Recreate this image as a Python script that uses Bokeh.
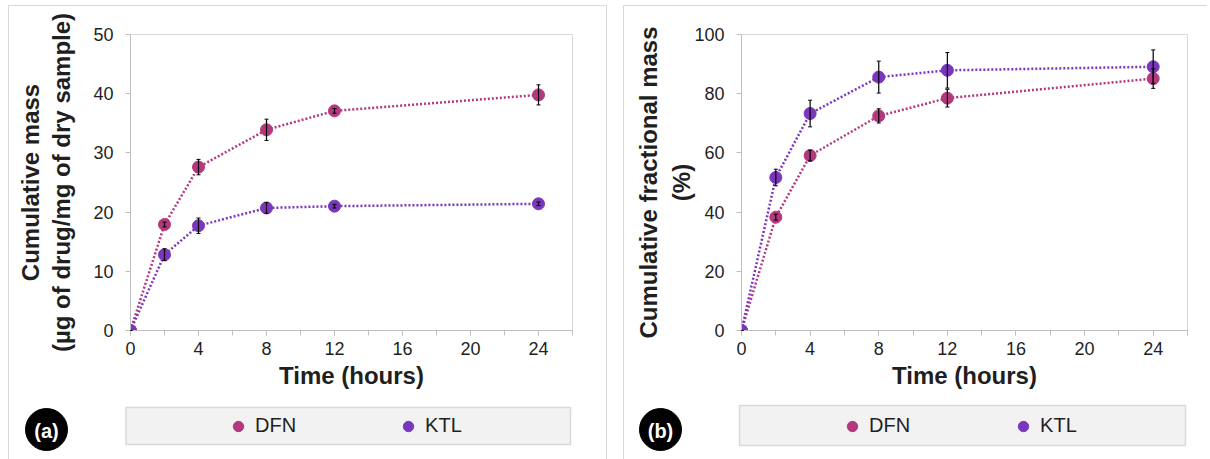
from bokeh.plotting import figure
from bokeh.models import (Range1d, Label, Legend, LegendItem, Whisker, ColumnDataSource,
                          SingleIntervalTicker, TeeHead, LinearAxis, FixedTicker, Spacer)
from bokeh.layouts import row, column
from bokeh.embed import file_html
from bokeh.resources import INLINE

# ---------------- data ----------------
hours = [0, 2, 4, 8, 12, 24]

a_dfn = [0, 17.9, 27.6, 33.9, 37.1, 39.8]
a_dfn_err = [0, 0.4, 1.3, 1.8, 0.4, 1.7]
a_ktl = [0, 12.8, 17.7, 20.7, 21.0, 21.4]
a_ktl_err = [0, 1.0, 1.3, 0.9, 0.3, 0.3]

b_dfn = [0, 38.3, 59.1, 72.5, 78.5, 85.1]
b_dfn_err = [0, 1.0, 1.8, 2.4, 3.0, 3.3]
b_ktl = [0, 51.7, 73.3, 85.6, 87.9, 89.1]
b_ktl_err = [0, 2.8, 4.5, 5.4, 6.0, 5.7]

series_names = ["DFN", "KTL"]
series_colors = ["#B4387E", "#7B36BE"]

FONT = "Liberation Sans"
TEXT = "#1f1f1f"
PANEL_LINE = "1px solid #D9D9D9"

CHART_H = 389
BOTTOM_H = 64


def chart(width, b_left, b_right, ymax, ystep, dfn, dfn_err, ktl, ktl_err,
          title_inner, title_outer, inner_standoff, outer_standoff):
    p = figure(width=width, height=CHART_H, output_backend="svg", toolbar_location=None,
               x_range=Range1d(0, 26), y_range=Range1d(0, ymax),
               min_border_left=b_left, min_border_right=b_right,
               min_border_top=28, min_border_bottom=CHART_H - 28 - 296)
    p.frame_align = False
    p.outline_line_color = "#D9D9D9"
    p.grid.visible = False

    p.xaxis.ticker = SingleIntervalTicker(interval=4, num_minor_ticks=2)
    p.yaxis.ticker = SingleIntervalTicker(interval=ystep, num_minor_ticks=0)
    for ax in (p.xaxis, p.yaxis):
        ax.axis_line_color = "#BFBFBF"
        ax.major_tick_line_color = "#BFBFBF"
        ax.minor_tick_line_color = "#BFBFBF"
        ax.major_tick_in = 0
        ax.major_tick_out = 5
        ax.minor_tick_in = 0
        ax.minor_tick_out = 5
        ax.major_label_text_font = FONT
        ax.major_label_text_font_size = "18px"
        ax.major_label_text_color = TEXT
        ax.axis_label_text_font = FONT
        ax.axis_label_text_font_size = "24px"
        ax.axis_label_text_font_style = "bold"
        ax.axis_label_text_color = TEXT
    p.yaxis.minor_tick_line_color = None
    p.yaxis.major_label_standoff = 12
    p.xaxis.major_label_standoff = 6
    p.xaxis.axis_label = "Time (hours)"
    p.xaxis.axis_label_standoff = 4
    p.yaxis.axis_label = title_inner
    p.yaxis.axis_label_standoff = inner_standoff

    ax2 = LinearAxis(ticker=FixedTicker(ticks=[]), axis_line_color=None,
                     major_tick_line_color=None, minor_tick_line_color=None,
                     major_tick_out=0, major_tick_in=0, major_label_standoff=0,
                     axis_label=title_outer, axis_label_standoff=outer_standoff,
                     axis_label_text_font=FONT, axis_label_text_font_size="24px",
                     axis_label_text_font_style="bold", axis_label_text_color=TEXT)
    p.add_layout(ax2, "left")

    for vals, errs, color in ((dfn, dfn_err, series_colors[0]), (ktl, ktl_err, series_colors[1])):
        p.line(hours, vals, line_color=color, line_width=2.5, line_dash="2 2")
        p.scatter(hours, vals, size=12, fill_color=color, line_color=color)
        src = ColumnDataSource(dict(x=hours,
                                    lo=[v - e for v, e in zip(vals, errs)],
                                    hi=[v + e for v, e in zip(vals, errs)]))
        p.add_layout(Whisker(base="x", lower="lo", upper="hi", source=src, level="annotation",
                             line_color="black", line_width=1.2,
                             upper_head=TeeHead(size=4, line_color="black", line_width=1),
                             lower_head=TeeHead(size=4, line_color="black", line_width=1)))
    return p


def bottom(width, x0, tag, tag_x, box_l, box_r, box_t, box_b, leg_glyph_left, spacing,
           dfn, ktl):
    # page-pixel coordinate system for the strip below the chart
    q = figure(width=width, height=BOTTOM_H, output_backend="svg", toolbar_location=None,
               x_range=Range1d(x0, x0 + width), y_range=Range1d(395 + BOTTOM_H, 395),
               min_border=0, x_axis_type=None, y_axis_type=None)
    q.frame_align = False
    q.outline_line_color = None
    q.grid.visible = False
    q.quad(left=[box_l], right=[box_r], top=[box_t], bottom=[box_b],
           fill_color="#F2F2F2", line_color="#D9D9D9", line_width=1.5)
    q.scatter([tag_x], [429], size=42, fill_color="black", line_color="black")
    q.add_layout(Label(x=tag_x, y=430, text=tag, text_align="center", text_baseline="middle",
                       text_font=FONT, text_font_size="20px", text_font_style="bold",
                       text_color="white"))
    # legend proxies: the series' first points, which fall outside this strip's ranges
    rs = [q.scatter(hours[:1], vals[:1], size=12, fill_color=c, line_color=c)
          for vals, c in zip((dfn, ktl), series_colors)]
    legend = Legend(items=[LegendItem(label=n, renderers=[r]) for n, r in zip(series_names, rs)],
                    location=(leg_glyph_left - x0, 395 + BOTTOM_H - 438.5),
                    orientation="horizontal", background_fill_alpha=0, border_line_alpha=0,
                    padding=0, margin=0, spacing=spacing, glyph_width=26, glyph_height=26,
                    label_standoff=4, label_text_font=FONT, label_text_font_size="20px",
                    label_text_color=TEXT)
    q.add_layout(legend, "center")
    return q


pa = chart(597, 121, 34, 50, 10, a_dfn, a_dfn_err, a_ktl, a_ktl_err,
           "(µg of drug/mg of dry sample)", "Cumulative mass", 15, 2)
qa = bottom(597, 9, "(a)", 46, 125.5, 570, 407, 444, 225, 99, a_dfn, a_ktl)
pb = chart(583, 117, 20, 100, 20, b_dfn, b_dfn_err, b_ktl, b_ktl_err,
           "(%)", "Cumulative fractional mass", -4, 4)
qb = bottom(583, 625, "(b)", 661, 740, 1186, 405, 445, 840, 100, b_dfn, b_ktl)

col_a = column(pa, qa, spacing=0,
               styles={"border-left": PANEL_LINE, "border-right": PANEL_LINE, "border-top": PANEL_LINE})
col_b = column(pb, qb, spacing=0,
               styles={"border-left": PANEL_LINE, "border-top": PANEL_LINE})

layout = column(Spacer(height=5),
                row(Spacer(width=8), col_a, Spacer(width=16), col_b, spacing=0),
                spacing=0)
open("out.html", "w").write(file_html(layout, INLINE))
